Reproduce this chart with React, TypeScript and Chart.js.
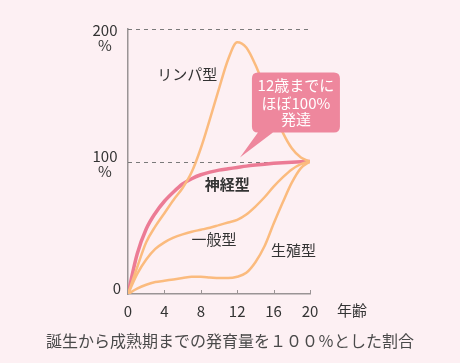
import React, { useEffect, useRef } from "react";
import { Chart, registerables } from "chart.js";

Chart.register(...registerables);

// ---- data ----
const years = [0, 1, 2, 3, 4, 5, 6, 7, 8, 9, 10, 11, 12, 13, 14, 15, 16, 17, 18, 19, 20];
const lymphoid = [0, 20, 39, 51, 61, 71, 80, 92, 110, 132, 155, 177, 190, 186, 173, 156, 138, 122, 110, 103, 100];
const neural = [0, 30, 49, 61, 70, 77, 83, 87, 90, 92, 93.5, 94.5, 95.5, 96.5, 97.3, 98, 98.6, 99.1, 99.5, 99.8, 100];
const general = [0, 15, 26, 34, 39, 42.5, 45, 47, 48.5, 50, 52, 54, 56, 60, 66, 73, 81, 88, 94, 98, 100];
const reproductive = [0, 4, 7, 9, 10, 11, 12, 13, 13, 12.5, 12, 12, 13, 16, 24, 36, 53, 69, 84, 95, 100];

const xTicks = [0, 4, 8, 12, 16, 20];
const yTicks = [0, 100, 200];
const yTickLabels = ["0", "100", "200"];
const dashedLevels = [100, 200];

const seriesNames = ["リンパ型", "神経型", "一般型", "生殖型"];
const xAxisTitle = "年齢";
const calloutLines = ["12歳までに", "ほぼ100%", "発達"];
const bottomTitle = "誕生から成熟期までの発育量を１００％とした割合";

// ---- styles ----
const BG = "#fdf0f3";
const ORANGE = "#fbbb7e";
const PINK = "#ec7b95";
const CALLOUT = "#ee879d";
const AXIS = "#9a9495";
const TEXT = "#333333";
const FONT = '"Noto Sans CJK JP", "Noto Sans", sans-serif';

const pts = (vals: number[]) => years.map((t, i) => ({ x: t, y: vals[i] }));

const overlay = {
  id: "overlay",
  beforeDatasetsDraw(chart: any) {
    const { ctx, scales } = chart;
    const x = scales.x;
    const y = scales.y;
    ctx.save();
    ctx.setLineDash([4, 4]);
    ctx.strokeStyle = "#7a7a7a";
    ctx.lineWidth = 1;
    for (const v of dashedLevels) {
      const py = Math.round(y.getPixelForValue(v)) + 0.5;
      ctx.beginPath();
      ctx.moveTo(x.getPixelForValue(0), py);
      ctx.lineTo(x.getPixelForValue(20), py);
      ctx.stroke();
    }
    ctx.restore();
  },
  afterDraw(chart: any) {
    const { ctx, scales } = chart;
    const x = scales.x;
    const y = scales.y;
    const y0 = y.getPixelForValue(0);
    ctx.save();

    // inward tick marks on the x axis
    ctx.strokeStyle = AXIS;
    ctx.lineWidth = 1;
    for (const t of xTicks) {
      if (t === 0) continue;
      const px = Math.round(x.getPixelForValue(t)) + 0.5;
      ctx.beginPath();
      ctx.moveTo(px, y0);
      ctx.lineTo(px, y0 - 4);
      ctx.stroke();
    }

    // y tick labels
    ctx.fillStyle = TEXT;
    ctx.font = `15px ${FONT}`;
    ctx.textBaseline = "middle";
    const yOffsets = [-6, -5, 1.5];
    yTicks.forEach((v, i) => {
      const py = y.getPixelForValue(v) + yOffsets[i];
      if (v === 0) {
        ctx.textAlign = "right";
        ctx.fillText(yTickLabels[i], 121, py);
      } else {
        ctx.textAlign = "center";
        ctx.fillText(yTickLabels[i], 105, py);
        ctx.fillText("%", 105, py + 15);
      }
    });

    // x axis title
    ctx.textAlign = "center";
    ctx.fillText(xAxisTitle, 352, y0 + 16);

    // curve labels
    const labelPos = [
      { x: 6.5, y: 166, bold: false },
      { x: 10.9, y: 82.5, bold: true },
      { x: 9.45, y: 41, bold: false },
      { x: 18.2, y: 33, bold: false },
    ];
    seriesNames.forEach((name, i) => {
      const p = labelPos[i];
      ctx.font = `${p.bold ? "bold " : ""}15px ${FONT}`;
      ctx.fillStyle = TEXT;
      ctx.textAlign = "center";
      ctx.fillText(name, x.getPixelForValue(p.x), y.getPixelForValue(p.y));
    });

    // callout
    const tx = x.getPixelForValue(12.3);
    const ty = y.getPixelForValue(103);
    const L = tx + 12, R = tx + 100, T = ty - 85, B = ty - 25, r = 6;
    ctx.fillStyle = CALLOUT;
    ctx.beginPath();
    ctx.moveTo(L + r, T);
    ctx.lineTo(R - r, T);
    ctx.quadraticCurveTo(R, T, R, T + r);
    ctx.lineTo(R, B - r);
    ctx.quadraticCurveTo(R, B, R - r, B);
    ctx.lineTo(tx + 33, B);
    ctx.lineTo(tx, ty);
    ctx.lineTo(tx + 18, B);
    ctx.lineTo(L + r, B);
    ctx.quadraticCurveTo(L, B, L, B - r);
    ctx.lineTo(L, T + r);
    ctx.quadraticCurveTo(L, T, L + r, T);
    ctx.closePath();
    ctx.fill();
    ctx.fillStyle = "#ffffff";
    ctx.font = `15px ${FONT}`;
    const lineYs = [-72, -54, -38];
    calloutLines.forEach((s, i) => ctx.fillText(s, (L + R) / 2, ty + lineYs[i]));

    // bottom caption
    ctx.fillStyle = "#4a4a4a";
    ctx.font = `16px ${FONT}`;
    ctx.fillText(bottomTitle, 230, 341);

    ctx.restore();
  },
};

export default function App() {
  const ref = useRef<HTMLCanvasElement>(null);
  useEffect(() => {
    document.body.style.margin = "0";
    document.body.style.background = BG;
    const chart = new Chart(ref.current as HTMLCanvasElement, {
      type: "line",
      data: {
        datasets: [
          { label: seriesNames[0], data: pts(lymphoid), borderColor: ORANGE, borderWidth: 2.5 },
          { label: seriesNames[2], data: pts(general), borderColor: ORANGE, borderWidth: 2.5 },
          { label: seriesNames[3], data: pts(reproductive), borderColor: ORANGE, borderWidth: 2.5 },
          { label: seriesNames[1], data: pts(neural), borderColor: PINK, borderWidth: 3.5 },
        ],
      },
      options: {
        animation: false,
        responsive: true,
        maintainAspectRatio: false,
        layout: { padding: { left: 128, right: 150, top: 29, bottom: 35 } },
        plugins: { legend: { display: false }, tooltip: { enabled: false }, title: { display: false } },
        elements: {
          point: { radius: 0 },
          line: { cubicInterpolationMode: "monotone", borderCapStyle: "round", fill: false },
        },
        scales: {
          x: {
            type: "linear",
            min: 0,
            max: 20,
            grid: { display: false, drawTicks: false },
            border: { display: true, color: AXIS, width: 1.5 },
            ticks: { stepSize: 4, padding: 8, color: TEXT, font: { family: FONT, size: 15 }, maxRotation: 0, autoSkip: false },
          },
          y: {
            type: "linear",
            min: 0,
            max: 200,
            afterFit: (s: any) => { s.width = 0; },
            grid: { display: false, drawTicks: false },
            border: { display: true, color: AXIS, width: 1.5 },
            ticks: { display: false, stepSize: 100 },
          },
        },
      },
      plugins: [overlay],
    });
    return () => chart.destroy();
  }, []);
  return (
    <div style={{ position: "relative", width: 460, height: 363, background: BG }}>
      <canvas ref={ref} />
    </div>
  );
}
